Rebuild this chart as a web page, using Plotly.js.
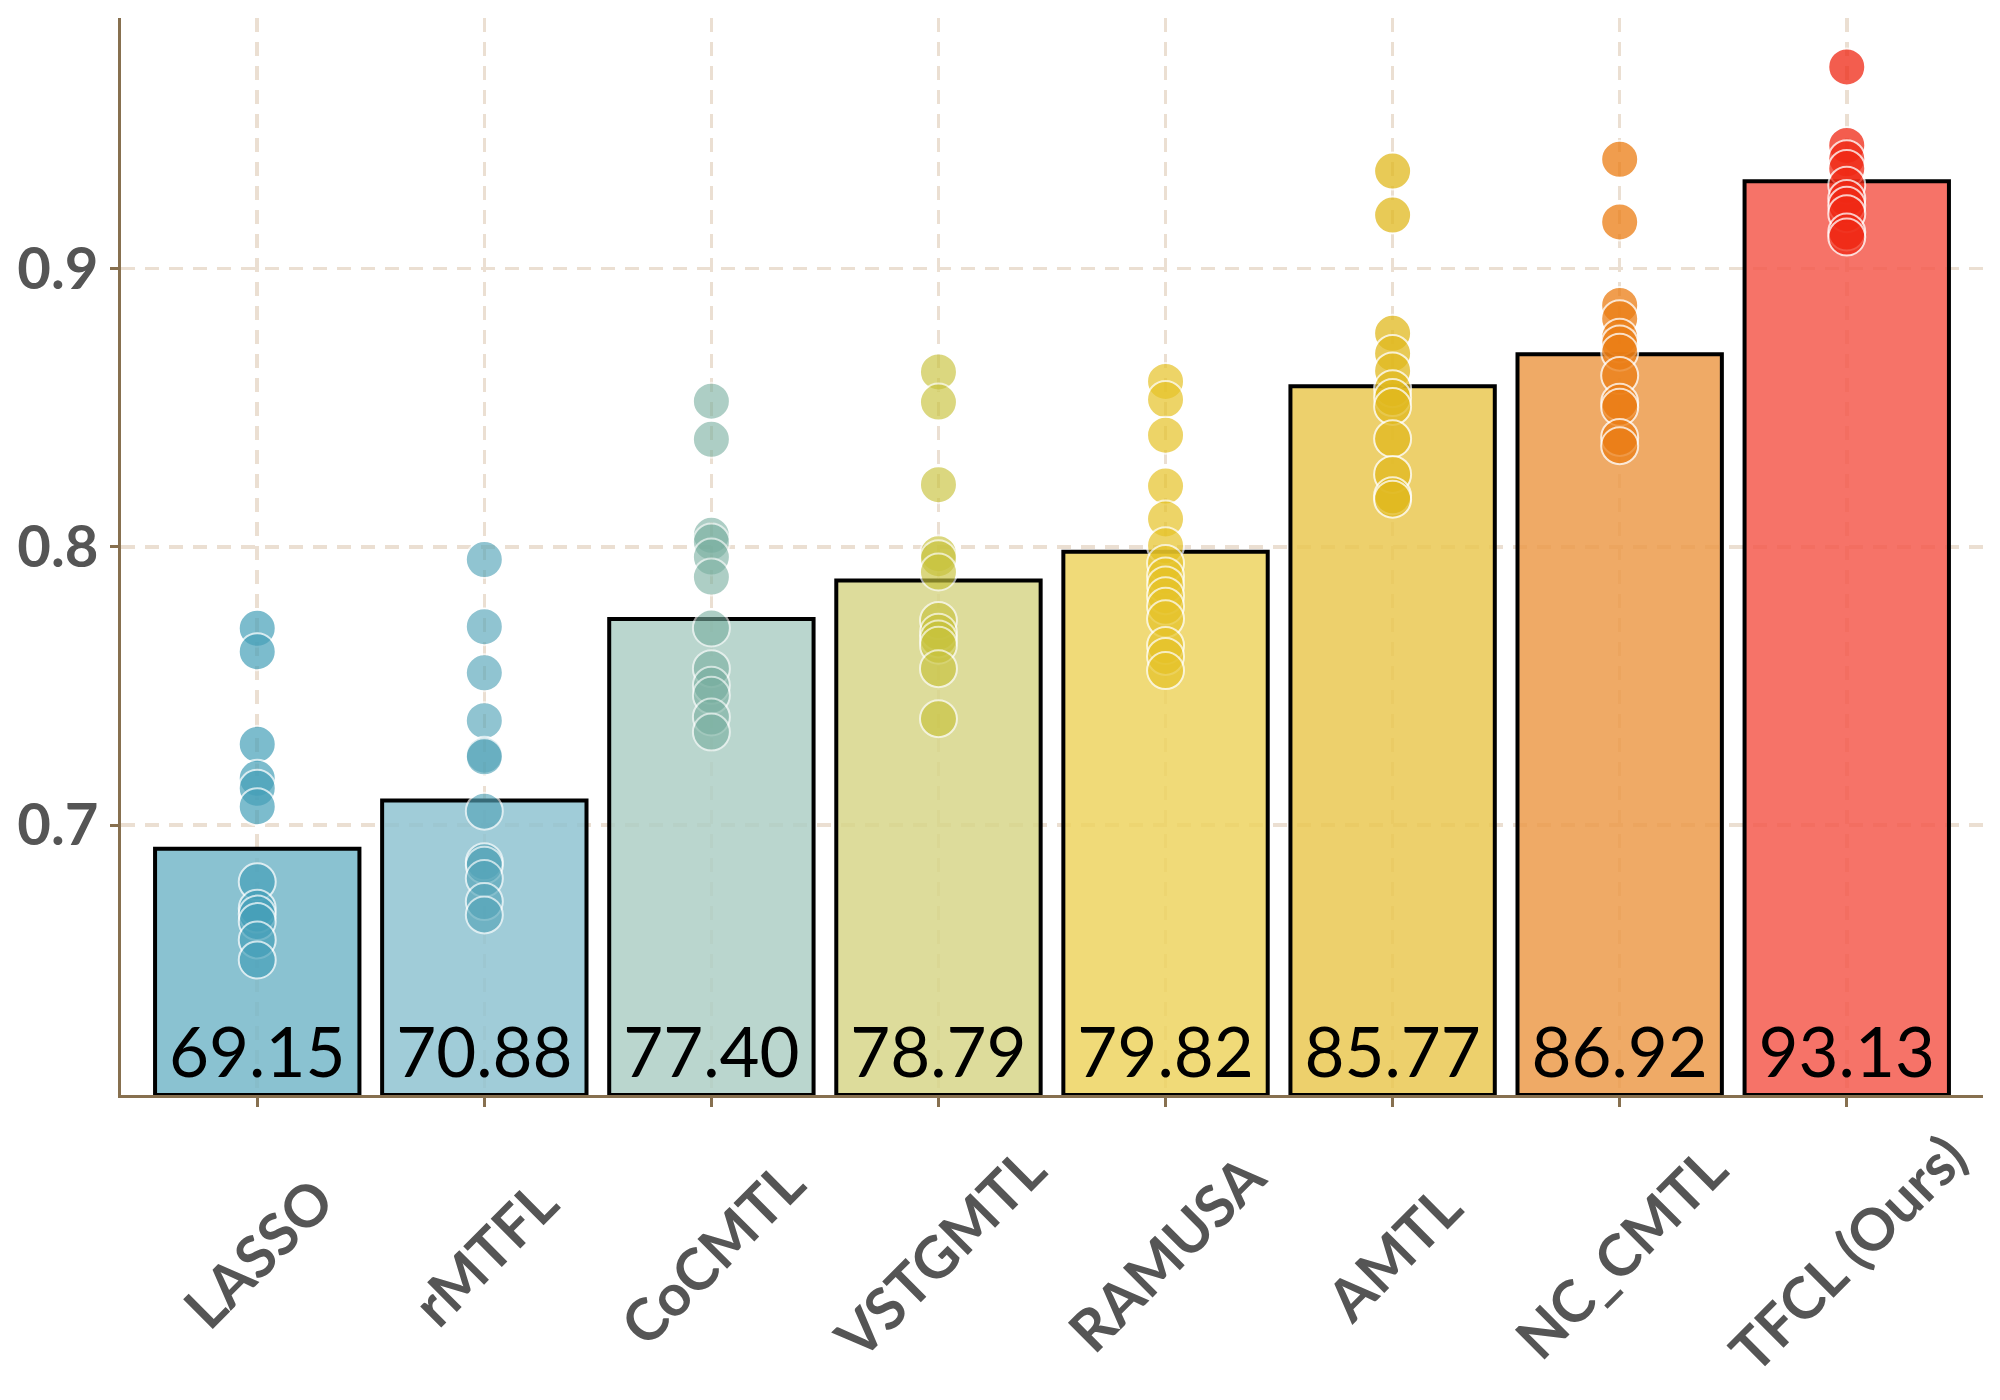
<!DOCTYPE html>
<html>
<head>
<meta charset="utf-8">
<script src="https://cdn.plot.ly/plotly-3.0.1.min.js"></script>
<style>html,body{margin:0;padding:0;background:#fff;}#chart{width:2000px;height:1400px;}</style>
</head>
<body>
<div id="chart"></div>
<script>
// ---- data ----
const methods = ["LASSO", "rMTFL", "CoCMTL", "VSTGMTL", "RAMUSA", "AMTL", "NC_CMTL", "TFCL (Ours)"];
const meanAcc = [0.6915, 0.7088, 0.7740, 0.7879, 0.7982, 0.8577, 0.8692, 0.9313];

const runsLASSO   = [0.7707, 0.7623, 0.7290, 0.7168, 0.7132, 0.7066, 0.6796, 0.6701, 0.6680, 0.6653, 0.6587, 0.6515];
const runsRMTFL   = [0.7954, 0.7713, 0.7547, 0.7375, 0.7251, 0.7245, 0.7050, 0.6868, 0.6856, 0.6808, 0.6725, 0.6677];
const runsCoCMTL  = [0.8523, 0.8386, 0.8041, 0.8017, 0.7963, 0.7891, 0.7708, 0.7562, 0.7502, 0.7466, 0.7388, 0.7334];
const runsVSTGMTL = [0.8628, 0.8520, 0.8223, 0.7975, 0.7957, 0.7909, 0.7735, 0.7693, 0.7669, 0.7646, 0.7562, 0.7382];
const runsRAMUSA  = [0.8594, 0.8529, 0.8401, 0.8218, 0.8100, 0.8004, 0.7940, 0.7895, 0.7863, 0.7824, 0.7786, 0.7741, 0.7645, 0.7606, 0.7555];
const runsAMTL    = [0.9350, 0.9192, 0.8767, 0.8694, 0.8632, 0.8568, 0.8536, 0.8504, 0.8388, 0.8260, 0.8183, 0.8171];
const runsNCCMTL  = [0.9392, 0.9167, 0.8867, 0.8819, 0.8753, 0.8729, 0.8699, 0.8615, 0.8519, 0.8501, 0.8393, 0.8363];
const runsTFCL    = [0.9724, 0.9442, 0.9394, 0.9359, 0.9299, 0.9251, 0.9227, 0.9197, 0.9131, 0.9113];

const yTicks = [0.7, 0.8, 0.9];
const yRange = [0.603, 0.99];

// ---- styles ----
const barColors = [
  "rgba(117,183,201,0.85)", "rgba(143,195,209,0.85)", "rgba(174,207,197,0.85)", "rgba(215,214,137,0.85)",
  "rgba(237,211,96,0.85)", "rgba(234,200,82,0.85)", "rgba(236,155,75,0.85)", "rgba(245,91,77,0.85)"
];
const dotColors = [
  ["rgb(70,160,185)", 0.7], ["rgb(85,165,185)", 0.65], ["rgb(120,175,160)", 0.6], ["rgb(200,195,60)", 0.65],
  ["rgb(230,195,40)", 0.7], ["rgb(225,185,30)", 0.75], ["rgb(235,125,20)", 0.75], ["rgb(240,40,20)", 0.75]
];
const allRuns = [runsLASSO, runsRMTFL, runsCoCMTL, runsVSTGMTL, runsRAMUSA, runsAMTL, runsNCCMTL, runsTFCL];

const FONT = "Lato, 'Open Sans', sans-serif";
const axisColor = "#87704f";
const gridColor = "#ebdfd2";

const traces = [];
traces.push({
  type: "bar",
  x: methods,
  y: meanAcc.map(v => v - yRange[0]),
  base: yRange[0],
  width: 0.9,
  marker: { color: barColors, line: { color: "#000", width: 4 } },
  text: meanAcc.map(v => (v * 100).toFixed(2)),
  textposition: "inside",
  insidetextanchor: "start",
  textangle: 0,
  constraintext: "none",
  textfont: { family: FONT, size: 69, color: "#000" },
  hoverinfo: "skip",
  showlegend: false
});
allRuns.forEach((runs, i) => {
  traces.push({
    type: "scatter",
    mode: "markers",
    x: runs.map(() => methods[i]),
    y: runs,
    marker: { size: 37, color: dotColors[i][0], opacity: dotColors[i][1], line: { color: "#ffffff", width: 2 } },
    showlegend: false,
    cliponaxis: false
  });
});

const annotations = methods.map(m => ({
  x: m, xref: "x", y: -0.146, yref: "paper",
  text: m, showarrow: false, textangle: -45,
  xanchor: "center", yanchor: "middle",
  font: { family: FONT, size: 58, color: "#555555", weight: "bold" }
}));

const layout = {
  width: 2000, height: 1400,
  margin: { l: 121, r: 17, t: 18, b: 305 },
  paper_bgcolor: "#fff", plot_bgcolor: "#fff",
  bargap: 0.1,
  xaxis: {
    type: "category", categoryorder: "array", categoryarray: methods,
    range: [-0.6, 7.6],
    showline: true, linecolor: axisColor, linewidth: 3,
    ticks: "outside", ticklen: 9, tickwidth: 3, tickcolor: axisColor,
    showticklabels: false,
    showgrid: true, gridcolor: gridColor, gridwidth: 3.5, griddash: "14px,10px",
    zeroline: false, fixedrange: true
  },
  yaxis: {
    range: yRange, tickvals: yTicks, ticktext: yTicks.map(v => v.toFixed(1)),
    showline: true, linecolor: axisColor, linewidth: 3,
    ticks: "outside", ticklen: 8, tickwidth: 3, tickcolor: axisColor,
    tickfont: { family: FONT, size: 58, color: "#555555", weight: "bold" },
    showgrid: true, gridcolor: gridColor, gridwidth: 3.5, griddash: "14px,10px",
    zeroline: false, fixedrange: true
  },
  annotations: annotations,
  font: { family: FONT }
};

Plotly.newPlot("chart", traces, layout, { displayModeBar: false, staticPlot: true });
</script>
</body>
</html>
